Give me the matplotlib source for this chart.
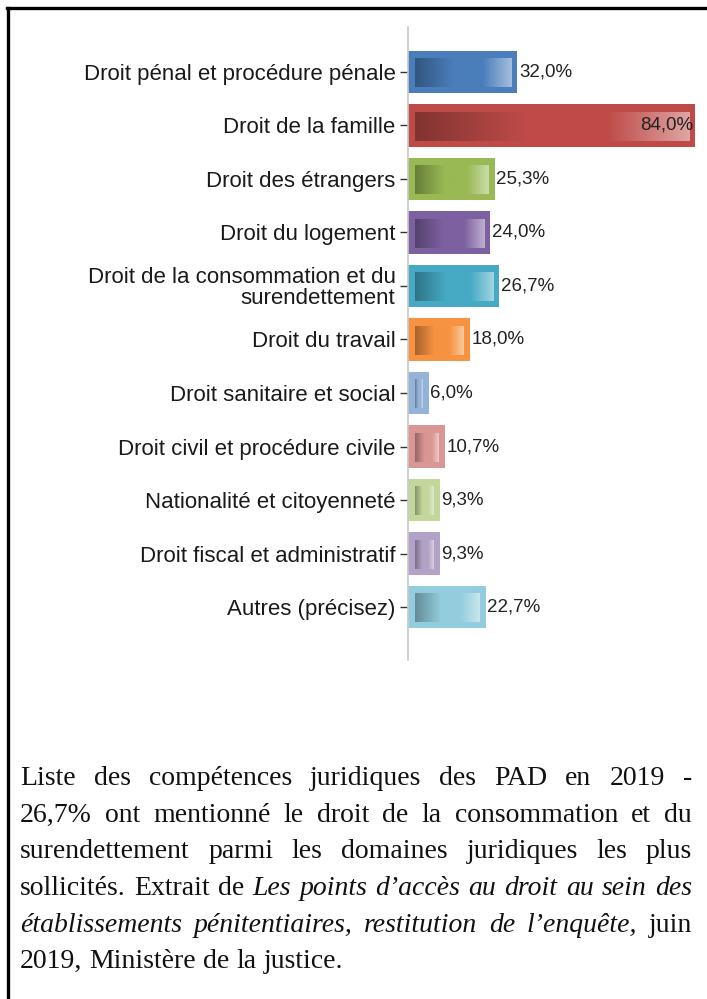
import matplotlib.pyplot as plt
import numpy as np
from matplotlib.colors import LinearSegmentedColormap, to_rgb
from matplotlib.lines import Line2D

categories = ['Droit pénal et procédure pénale', 'Droit de la famille', 'Droit des étrangers',
              'Droit du logement', 'Droit de la consommation et du\nsurendettement', 'Droit du travail',
              'Droit sanitaire et social', 'Droit civil et procédure civile', 'Nationalité et citoyenneté',
              'Droit fiscal et administratif', 'Autres (précisez)']
values = [32.0, 84.0, 25.3, 24.0, 26.7, 18.0, 6.0, 10.7, 9.3, 9.3, 22.7]
labels = ['32,0%', '84,0%', '25,3%', '24,0%', '26,7%', '18,0%', '6,0%', '10,7%', '9,3%', '9,3%', '22,7%']
colors = ['#4a7ebb', '#be4b48', '#98b954', '#7d60a0', '#46aac5', '#f69240',
          '#95b3d7', '#d99694', '#c3d69b', '#b3a2c7', '#93cddd']

caption = [
    [('Liste des compétences juridiques des PAD en 2019 -', 'normal')],
    [('26,7% ont mentionné le droit de la consommation et du', 'normal')],
    [('surendettement parmi les domaines juridiques les plus', 'normal')],
    [('sollicités. Extrait de', 'normal'), ('Les points d’accès au droit au sein des', 'italic')],
    [('établissements pénitentiaires, restitution de l’enquête,', 'italic'), ('juin', 'normal')],
    [('2019, Ministère de la justice.', 'normal')],
]

W, H = 707, 999
fig = plt.figure(figsize=(W / 100, H / 100), dpi=100)

# axes placed in pixels
ax_l, ax_r, ax_t, ax_b = 408, 697, 27, 660
ax = fig.add_axes([ax_l / W, 1 - ax_b / H, (ax_r - ax_l) / W, (ax_b - ax_t) / H])
xmax = 84.5
ylim = (10.99, -0.84)

n = len(values)
y = np.arange(n)
bh = 0.79
ax.barh(y, values, height=bh, color=colors, edgecolor='none', zorder=2)

# inner gradient of each bar
px_x = xmax / (ax_r - ax_l)
px_y = (ylim[0] - ylim[1]) / (ax_b - ax_t)
grad = np.linspace(0, 1, 256).reshape(1, -1)
for i, (v, c) in enumerate(zip(values, colors)):
    base = np.array(to_rgb(c))
    dark = base * 0.68
    light = base + (1 - base) * 0.5
    cmap = LinearSegmentedColormap.from_list('g%d' % i, [(0, dark), (0.4, base), (0.7, base), (1, light)])
    x0 = 7 * px_x
    x1 = v - 6 * px_x
    if x1 <= x0:
        continue
    y0 = i - bh / 2 + 8 * px_y
    y1 = i + bh / 2 - 6 * px_y
    ax.imshow(grad, cmap=cmap, aspect='auto', extent=(x0, x1, y1, y0), zorder=3, interpolation='bilinear')

for i, (v, lab) in enumerate(zip(values, labels)):
    if v > 70:
        ax.text(v - 0.5, i, lab, ha='right', va='center', fontsize=13.5, color='#222222',
                family='Liberation Sans', zorder=4)
    else:
        ax.text(v + 0.5, i, lab, ha='left', va='center', fontsize=13.5, color='#222222',
                family='Liberation Sans', zorder=4)

ax.set_xlim(0, xmax)
ax.set_ylim(*ylim)
ax.set_yticks(y)
ax.set_yticklabels(categories, fontsize=16, family='Liberation Sans', color='#1a1a1a', linespacing=0.95)
ax.tick_params(axis='y', length=6, width=1, color='#333333', pad=3)
ax.set_xticks([])
for s in ['top', 'right', 'bottom']:
    ax.spines[s].set_visible(False)
ax.spines['left'].set_color('#c8c8c8')
ax.spines['left'].set_linewidth(1.2)

# frame of the box
fig.add_artist(Line2D([7 / W, 1], [1 - 8 / H, 1 - 8 / H], color='black', lw=2.4, transform=fig.transFigure))
fig.add_artist(Line2D([8 / W, 8 / W], [1 - 8 / H, 0], color='black', lw=2.4, transform=fig.transFigure))

# justified caption
renderer = fig.canvas.get_renderer()
left, right = 20, 692
baselines = [785, 822, 858, 895, 932, 968]
fs = 20
fam = 'Liberation Serif'
for li, (line, yb) in enumerate(zip(caption, baselines)):
    words = []
    for seg, style in line:
        for w in seg.split(' '):
            words.append((w, style))
    items = []
    for w, style in words:
        t = fig.text(0, 1 - yb / H, w, fontsize=fs, family=fam, style=style, color='#111111',
                     ha='left', va='baseline')
        wd = t.get_window_extent(renderer).width
        items.append((t, wd))
    total = sum(wd for _, wd in items)
    if li < len(caption) - 1 and len(items) > 1:
        gap = (right - left - total) / (len(items) - 1)
    else:
        sp = fig.text(0, 0, 'a a', fontsize=fs, family=fam)
        sp2 = fig.text(0, 0, 'aa', fontsize=fs, family=fam)
        gap = sp.get_window_extent(renderer).width - sp2.get_window_extent(renderer).width
        sp.remove()
        sp2.remove()
    x = left
    for t, wd in items:
        t.set_x(x / W)
        x += wd + gap

fig.savefig('out.png', dpi=100)
